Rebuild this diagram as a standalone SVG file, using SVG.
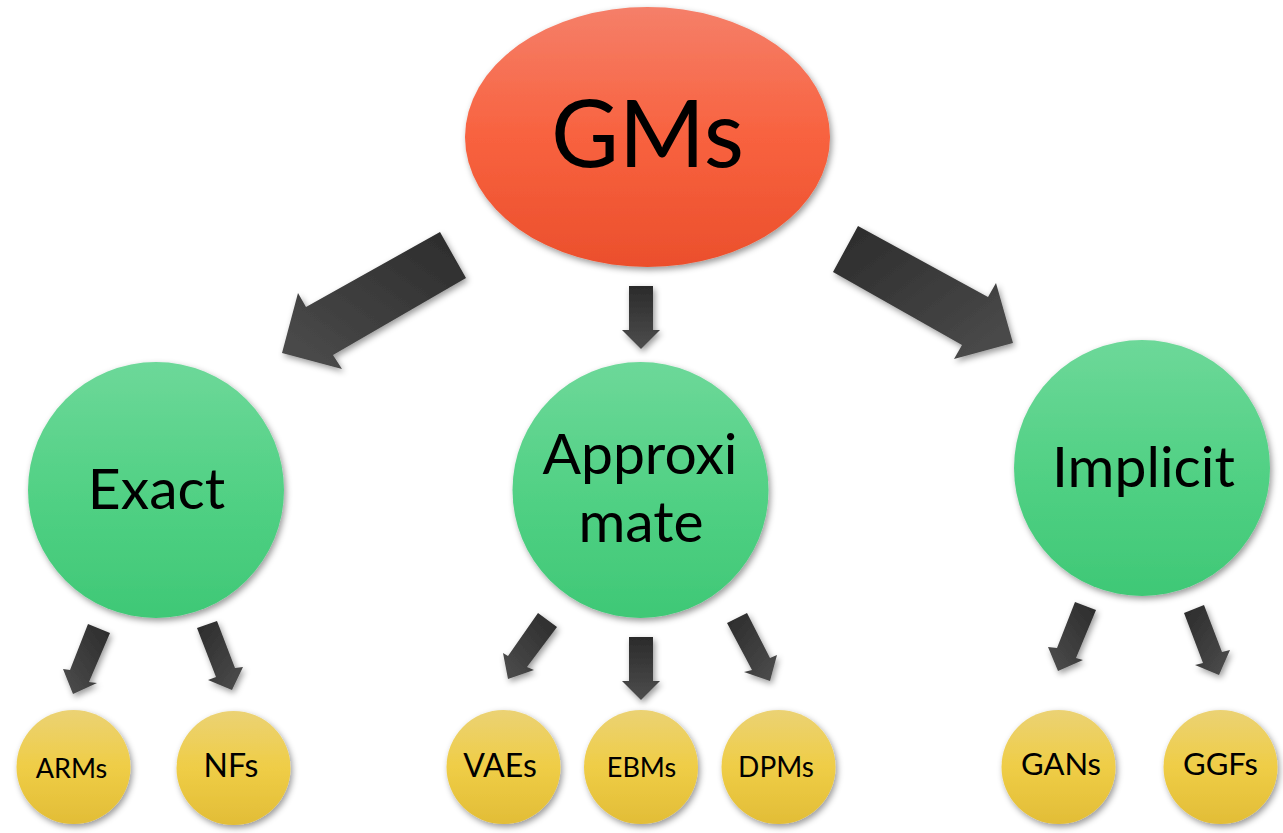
<svg xmlns="http://www.w3.org/2000/svg" width="1283" height="833" viewBox="0 0 1283 833">
  <defs>
    <linearGradient id="gRed" x1="0" y1="0" x2="0" y2="1">
      <stop offset="0" stop-color="#f57f69"/>
      <stop offset="0.5" stop-color="#f8623f"/>
      <stop offset="1" stop-color="#eb4f2c"/>
    </linearGradient>
    <linearGradient id="gGreen" x1="0" y1="0" x2="0" y2="1">
      <stop offset="0" stop-color="#6dd899"/>
      <stop offset="0.5" stop-color="#52d185"/>
      <stop offset="1" stop-color="#3fc876"/>
    </linearGradient>
    <linearGradient id="gGold" x1="0" y1="0" x2="0" y2="1">
      <stop offset="0" stop-color="#ebd274"/>
      <stop offset="0.5" stop-color="#efcd46"/>
      <stop offset="1" stop-color="#e2bd37"/>
    </linearGradient>
    <linearGradient id="aDown" x1="0" y1="0" x2="0" y2="1">
      <stop offset="0" stop-color="#2b2b2b"/>
      <stop offset="1" stop-color="#4d4d4d"/>
    </linearGradient>
    <linearGradient id="aDownLeft" x1="1" y1="0" x2="0" y2="1">
      <stop offset="0" stop-color="#2b2b2b"/>
      <stop offset="1" stop-color="#4d4d4d"/>
    </linearGradient>
    <linearGradient id="aDownRight" x1="0" y1="0" x2="1" y2="1">
      <stop offset="0" stop-color="#2b2b2b"/>
      <stop offset="1" stop-color="#4d4d4d"/>
    </linearGradient>
    <filter id="shadow" x="-20%" y="-20%" width="140%" height="140%">
      <feDropShadow dx="2" dy="3" stdDeviation="3" flood-color="#000" flood-opacity="0.4"/>
    </filter>
  </defs>
  <style>
    text { font-family: Lato, "Liberation Sans", sans-serif; fill: #000; text-anchor: middle; }
    .big { font-size: 93px; }
    .mid { font-size: 57px; }
    .arrow { filter: url(#shadow); }
    .node { filter: url(#shadow); }
  </style>

  <rect width="1283" height="833" fill="#ffffff"/>

  <!-- connectors: block arrows -->
  <g id="connectors">
    <polygon class="arrow" fill="url(#aDownLeft)" points="440,232 466,278 333,355 342,369 282,353 298,293 306,307"/>
    <polygon class="arrow" fill="url(#aDown)" points="629,286 653,286 653,330 660,330 641,349 622,330 629,330"/>
    <polygon class="arrow" fill="url(#aDownRight)" points="858,226 833,272 962,345 954,359 1013,343 996,283 988,297"/>

    <polygon class="arrow" fill="url(#aDownLeft)" points="88,624 110,633 89,682 97,683 73,694 63,669 70,670"/>
    <polygon class="arrow" fill="url(#aDownRight)" points="197,628 217,621 235,668 243,667 232,690 208,680 216,677"/>

    <polygon class="arrow" fill="url(#aDownLeft)" points="538,613 557,627 527,667 534,670 508,679 503,653 508,656"/>
    <polygon class="arrow" fill="url(#aDown)" points="629,637 653,637 653,681 660,681 641,700 622,681 629,681"/>
    <polygon class="arrow" fill="url(#aDownRight)" points="727,623 747,613 770,658 777,655 770,681 744,672 752,670"/>

    <polygon class="arrow" fill="url(#aDownLeft)" points="1075,602 1096,610 1076,658 1083,660 1058,671 1048,647 1057,648"/>
    <polygon class="arrow" fill="url(#aDownRight)" points="1184,613 1204,605 1222,652 1230,650 1219,675 1195,665 1203,663"/>
  </g>

  <!-- root -->
  <g id="gms">
    <ellipse class="node" cx="647.5" cy="137" rx="182.5" ry="130" fill="url(#gRed)"/>
    <text class="big" x="647.5" y="167">GMs</text>
  </g>

  <!-- second level -->
  <g id="exact">
    <circle class="node" cx="156" cy="490" r="128" fill="url(#gGreen)"/>
    <text class="mid" x="156.5" y="509">Exact</text>
  </g>
  <g id="approximate">
    <circle class="node" cx="640.5" cy="490" r="128" fill="url(#gGreen)"/>
    <text class="mid" x="640" y="474">Approxi</text>
    <text class="mid" x="641" y="542">mate</text>
  </g>
  <g id="implicit">
    <circle class="node" cx="1142" cy="468" r="128" fill="url(#gGreen)"/>
    <text class="mid" x="1143.5" y="487">Implicit</text>
  </g>

  <!-- leaves -->
  <g id="arms">
    <circle class="node" cx="73.5" cy="767" r="57" fill="url(#gGold)"/>
    <text x="71.5" y="778" font-size="27">ARMs</text>
  </g>
  <g id="nfs">
    <circle class="node" cx="233.5" cy="768" r="57" fill="url(#gGold)"/>
    <text x="231" y="777" font-size="32">NFs</text>
  </g>
  <g id="vaes">
    <circle class="node" cx="503.5" cy="767" r="57" fill="url(#gGold)"/>
    <text x="500" y="777" font-size="32">VAEs</text>
  </g>
  <g id="ebms">
    <circle class="node" cx="641" cy="767" r="57" fill="url(#gGold)"/>
    <text x="641.5" y="777" font-size="27">EBMs</text>
  </g>
  <g id="dpms">
    <circle class="node" cx="778.5" cy="767" r="57" fill="url(#gGold)"/>
    <text x="776" y="777" font-size="28">DPMs</text>
  </g>
  <g id="gans">
    <circle class="node" cx="1058.5" cy="767" r="57" fill="url(#gGold)"/>
    <text x="1061" y="775" font-size="31">GANs</text>
  </g>
  <g id="ggfs">
    <circle class="node" cx="1220.5" cy="767" r="57" fill="url(#gGold)"/>
    <text x="1220.5" y="775" font-size="31">GGFs</text>
  </g>
</svg>
